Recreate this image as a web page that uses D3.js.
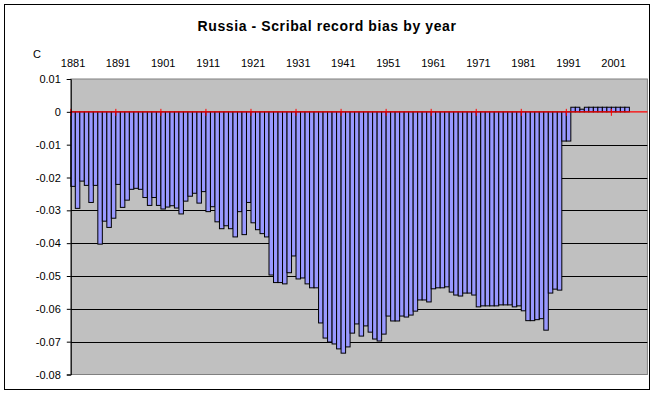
<!DOCTYPE html>
<html>
<head>
<meta charset="utf-8">
<script src="https://cdn.jsdelivr.net/npm/d3@7"></script>
<style>
  html, body { margin: 0; padding: 0; background: #ffffff; }
  svg { display: block; font-family: "Liberation Sans", Arial, sans-serif; }
</style>
</head>
<body>
<svg id="chart" width="654" height="394"></svg>
<script>
// ---- Data ----
const title = "Russia - Scribal record bias by year";
const unitLabel = "C";
const firstYear = 1881;
const lastAxisYear = 2008;   // category axis extends past the data
// Bias per year, 1881..2004
const biasValues = [
  -0.0227, -0.0294, -0.0211, -0.0224, -0.0276, -0.0224, -0.0403, -0.0333, -0.0352, -0.0324, // 1881-1890
  -0.0221, -0.0291, -0.0269, -0.0236, -0.0233, -0.0236, -0.0261, -0.0285, -0.0261, -0.0285, // 1891-1900
  -0.0296, -0.0290, -0.0286, -0.0293, -0.0311, -0.0272, -0.0257, -0.0248, -0.0278, -0.0243, // 1901-1910
  -0.0304, -0.0289, -0.0335, -0.0356, -0.0347, -0.0356, -0.0381, -0.0304, -0.0374, -0.0276, // 1911-1920
  -0.0338, -0.0359, -0.0371, -0.0381, -0.0497, -0.0520, -0.0520, -0.0524, -0.0490, -0.0439, // 1921-1930
  -0.0509, -0.0506, -0.0524, -0.0536, -0.0536, -0.0643, -0.0689, -0.0701, -0.0707, -0.0722, // 1931-1940
  -0.0735, -0.0716, -0.0674, -0.0646, -0.0683, -0.0652, -0.0671, -0.0692, -0.0698, -0.0677, // 1941-1950
  -0.0622, -0.0637, -0.0637, -0.0622, -0.0625, -0.0619, -0.0607, -0.0573, -0.0573, -0.0579, // 1951-1960
  -0.0539, -0.0536, -0.0536, -0.0533, -0.0549, -0.0558, -0.0561, -0.0552, -0.0552, -0.0558, // 1961-1970
  -0.0594, -0.0591, -0.0591, -0.0591, -0.0591, -0.0588, -0.0588, -0.0588, -0.0594, -0.0591, // 1971-1980
  -0.0606, -0.0636, -0.0636, -0.0633, -0.0630, -0.0665, -0.0552, -0.0540, -0.0543, -0.0089, // 1981-1990
  -0.0089,  0.0014,  0.0014,  0.0008,  0.0014,  0.0014,  0.0014,  0.0014,  0.0014,  0.0014, // 1991-2000
   0.0014,  0.0014,  0.0014,  0.0014                                                          // 2001-2004
];
const yTicks = [0.01, 0, -0.01, -0.02, -0.03, -0.04, -0.05, -0.06, -0.07, -0.08];
const yearLabelStep = 10;

// ---- Layout ----
const svg = d3.select("#chart");
const plot = { left: 70.8, right: 647.4, top: 79, bottom: 374.5 };

const years = d3.range(firstYear, lastAxisYear + 1);
const data = biasValues.map((v, i) => ({ year: firstYear + i, value: v }));
const labelYears = years.filter(y => (y - firstYear) % yearLabelStep === 0);

const x = d3.scaleBand().domain(years).range([plot.left, plot.right]).padding(0);
const y = d3.scaleLinear().domain([-0.08, 0.01]).range([plot.bottom, plot.top]);

// outer frame
svg.append("rect")
  .attr("x", 4.5).attr("y", 4.5).attr("width", 645).attr("height", 385)
  .attr("fill", "#ffffff").attr("stroke", "#000000").attr("stroke-width", 1);

// title
svg.append("text")
  .attr("x", 327).attr("y", 31)
  .attr("text-anchor", "middle")
  .attr("font-size", 14).attr("font-weight", "bold")
  .attr("letter-spacing", 0.6)
  .text(title);

// plot background
svg.append("rect")
  .attr("x", plot.left).attr("y", plot.top)
  .attr("width", plot.right - plot.left).attr("height", plot.bottom - plot.top)
  .attr("fill", "#c0c0c0").attr("stroke", "#808080").attr("stroke-width", 1);

// gridlines
svg.append("g").selectAll("line")
  .data(yTicks.filter(t => t < -0.001 && t > -0.075))
  .join("line")
  .attr("x1", plot.left).attr("x2", plot.right)
  .attr("y1", d => Math.round(y(d)) + 0.5).attr("y2", d => Math.round(y(d)) + 0.5)
  .attr("stroke", "#000000").attr("stroke-width", 1);

// bars
svg.append("g").selectAll("rect")
  .data(data)
  .join("rect")
  .attr("x", d => x(d.year))
  .attr("width", x.bandwidth())
  .attr("y", d => y(Math.max(0, d.value)))
  .attr("height", d => Math.abs(y(d.value) - y(0)))
  .attr("fill", "#9999ff")
  .attr("stroke", "#000000").attr("stroke-width", 1);

// zero axis (red) with crossing ticks
const y0 = y(0);
svg.append("line")
  .attr("x1", plot.left).attr("x2", plot.right)
  .attr("y1", y0).attr("y2", y0)
  .attr("stroke", "#ff0000").attr("stroke-width", 1.2);
svg.append("g").selectAll("line")
  .data(labelYears)
  .join("line")
  .attr("x1", d => x(d)).attr("x2", d => x(d))
  .attr("y1", y0 - 3).attr("y2", y0 + 4)
  .attr("stroke", "#ff0000").attr("stroke-width", 1);

// year labels at top
svg.append("g").selectAll("text")
  .data(labelYears)
  .join("text")
  .attr("x", d => x(d) + x.bandwidth() / 2)
  .attr("y", 67)
  .attr("text-anchor", "middle")
  .attr("font-size", 11)
  .text(d => d);

// y axis
const yAxis = d3.axisLeft(y)
  .tickValues(yTicks)
  .tickSize(4)
  .tickPadding(6)
  .tickFormat(d => Math.abs(d) < 1e-9 ? "0" : d.toFixed(2));
const gy = svg.append("g")
  .attr("transform", `translate(${plot.left},0)`)
  .call(yAxis);
gy.select(".domain").attr("stroke", "#000000");
gy.selectAll(".tick line").attr("stroke", "#000000");
gy.selectAll(".tick text")
  .attr("font-size", 11)
  .attr("font-family", "'Liberation Sans', Arial, sans-serif")
  .attr("fill", "#000000");

// unit label
svg.append("text")
  .attr("x", 37).attr("y", 58)
  .attr("text-anchor", "middle")
  .attr("font-size", 11)
  .text(unitLabel);
</script>
</body>
</html>
